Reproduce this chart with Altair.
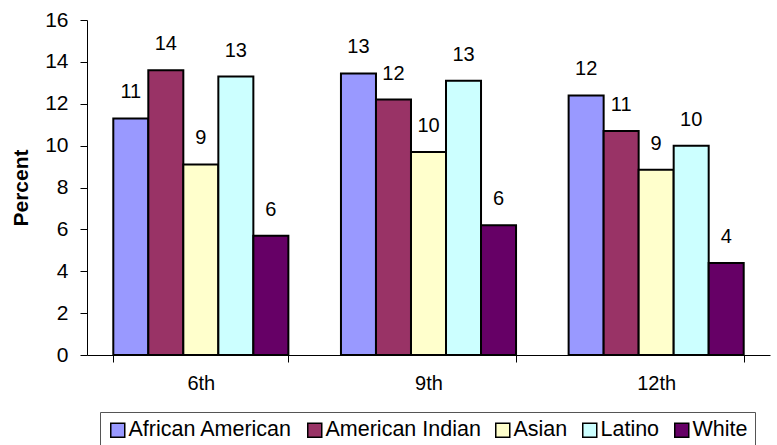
import altair as alt
import pandas as pd

grades = ["6th", "9th", "12th"]
groups = ["African American", "American Indian", "Asian", "Latino", "White"]
colors = ["#9999FF", "#993366", "#FFFFCC", "#CCFFFF", "#660066"]
v_6th = [11.3, 13.6, 9.1, 13.3, 5.7]
v_9th = [13.45, 12.2, 9.7, 13.1, 6.2]
v_12th = [12.4, 10.7, 8.85, 10.0, 4.4]
labels_6th = ["11", "14", "9", "13", "6"]
labels_9th = ["13", "12", "10", "13", "6"]
labels_12th = ["12", "11", "9", "10", "4"]

rows = []
for g, vals, labs in zip(grades, [v_6th, v_9th, v_12th], [labels_6th, labels_9th, labels_12th]):
    for grp, v, l in zip(groups, vals, labs):
        rows.append({"grade": g, "group": grp, "value": v, "label": l})
df = pd.DataFrame(rows)

FONT = "Liberation Sans"

x = alt.X("grade:N", sort=grades, title=None,
          scale=alt.Scale(paddingInner=0.231, paddingOuter=0.1155),
          axis=alt.Axis(labelAngle=0, labelFontSize=20, labelFont=FONT, labelColor="black",
                        domainColor="black", tickColor="black", tickSize=7,
                        tickBand="extent", labelPadding=11))
xo = alt.XOffset("group:N", sort=groups, scale=alt.Scale(paddingInner=0, paddingOuter=0))
y = alt.Y("value:Q", title="Percent",
          scale=alt.Scale(domain=[0, 16], nice=False),
          axis=alt.Axis(values=list(range(0, 17, 2)), grid=False, labelFontSize=21,
                        labelFont=FONT, labelColor="black", domainColor="black",
                        tickColor="black", tickSize=7, labelPadding=12,
                        titleFontSize=21, titleFont=FONT, titleFontWeight="bold",
                        titleColor="black", titlePadding=13))

bars = alt.Chart(df).mark_bar(stroke="black", strokeWidth=2).encode(
    x=x, xOffset=xo, y=y,
    color=alt.Color("group:N", sort=groups,
                    scale=alt.Scale(domain=groups, range=colors),
                    legend=alt.Legend(title=None, orient="none", direction="horizontal",
                                      legendX=13, legendY=392, padding=7,
                                      strokeColor="#555555", fillColor="white",
                                      symbolType="square", symbolSize=196,
                                      symbolStrokeColor="black", symbolStrokeWidth=1.5,
                                      symbolOpacity=1,
                                      labelFontSize=21.5, labelFont=FONT, labelColor="black",
                                      labelOffset=0, columnPadding=11,
                                      labelLimit=300))
)

text = alt.Chart(df).mark_text(baseline="bottom", dy=-16, fontSize=20, font=FONT,
                               color="black").encode(
    x=x, xOffset=xo, y=y, text="label:N"
)

chart = alt.layer(bars, text).properties(
    width=683, height=335,
    autosize=alt.AutoSizeParams(type="none"),
    padding={"left": 87, "top": 20, "right": 7, "bottom": 90},
).configure_view(stroke=None)

chart.save("out.html", embed_options={"renderer": "svg", "actions": False})
